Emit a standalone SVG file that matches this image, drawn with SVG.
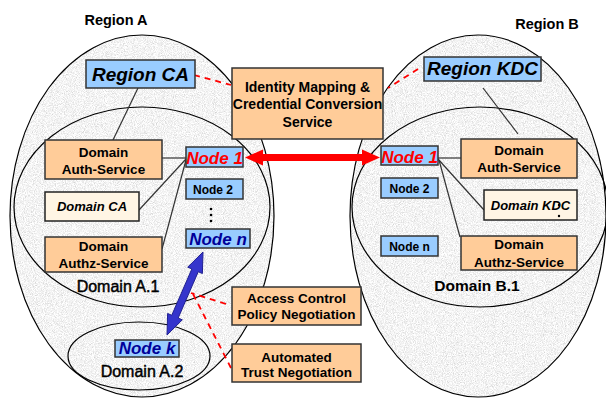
<svg xmlns="http://www.w3.org/2000/svg" width="606" height="399" viewBox="0 0 606 399">
<defs>
<filter id="speck" x="0" y="0" width="1" height="1">
<feTurbulence type="fractalNoise" baseFrequency="1.1" numOctaves="2" seed="4" result="n"/>
<feColorMatrix in="n" type="matrix" values="0.7 0 0 0 0.55  0.7 0 0 0 0.55  0.7 0 0 0 0.55  0 0 0 0 1" result="g"/>
<feComposite in="g" in2="SourceGraphic" operator="in"/>
</filter>
<style>
.region{fill:#e0e0e0;}
.outline{fill:none;stroke:#000;stroke-width:1.2;}
.blue{fill:#99ccff;stroke:#333;stroke-width:1.5;}
.peach{fill:#ffcc99;stroke:#333;stroke-width:1.5;}
.cream{fill:#fff5e4;stroke:#222;stroke-width:1.5;}
.t{font-family:"Liberation Sans",Arial,sans-serif;font-weight:bold;text-anchor:middle;fill:#000;}
.m{font-weight:normal;stroke:#000;stroke-width:0.45;}
.bi{font-style:italic;}
.line{stroke:#333;stroke-width:1.2;fill:none;}
.dash{stroke:#ff0000;stroke-width:1.8;stroke-dasharray:6,5;fill:none;}
</style>
</defs>

<g id="regionA">
<ellipse class="region" cx="142" cy="216" rx="132" ry="181" filter="url(#speck)"/>
<ellipse class="outline" cx="142" cy="216" rx="132" ry="181"/>
<text class="t" x="116" y="25" font-size="14.5">Region A</text>
</g>
<g id="regionB">
<ellipse class="region" cx="478" cy="216" rx="128" ry="181" filter="url(#speck)"/>
<ellipse class="outline" cx="478" cy="216" rx="128" ry="181"/>
<text class="t" x="547" y="29" font-size="14.5">Region B</text>
</g>
<g id="domainA1">
<ellipse class="outline" cx="142" cy="207" rx="128" ry="100"/>
<text class="t m" x="118" y="292" font-size="16">Domain A.1</text>
</g>
<g id="domainA2">
<ellipse class="outline" cx="139" cy="356" rx="71" ry="34"/>
<text class="t m" x="142" y="377" font-size="16">Domain A.2</text>
</g>
<g id="domainB1">
<ellipse class="outline" cx="480" cy="207" rx="128" ry="100"/>
<text class="t" x="477" y="291" font-size="15.5">Domain B.1</text>
</g>

<g id="connectors">
<line class="line" x1="138" y1="88" x2="113" y2="140"/>
<line class="line" x1="105" y1="153" x2="105" y2="163"/>
<line class="line" x1="162" y1="158" x2="186" y2="158"/>
<line class="line" x1="139" y1="210" x2="186" y2="159"/>
<line class="line" x1="162" y1="249" x2="186" y2="160"/>
<line class="line" x1="483" y1="88" x2="518" y2="134"/>
<line class="line" x1="518" y1="150" x2="518" y2="163"/>
<line class="line" x1="438" y1="158" x2="461" y2="158"/>
<line class="line" x1="438" y1="159" x2="484" y2="210"/>
<line class="line" x1="439" y1="160" x2="460" y2="237"/>
<line class="dash" x1="194" y1="75" x2="231" y2="85"/>
<line class="dash" x1="418" y1="69" x2="388" y2="88"/>
<line class="dash" x1="226" y1="304" x2="191" y2="293"/>
<line class="dash" x1="231" y1="368" x2="193" y2="294"/>
<polygon points="245,157.5 263,149.5 263,154 362,154 362,149.5 380,157.5 362,165.5 362,161 263,161 263,165.5" fill="#ff0000"/>
<polygon points="203,252 202.38,273.52 198.25,271.73 178.17,318.05 182.3,319.84 167,335 167.62,313.48 171.75,315.27 191.83,268.95 187.7,267.16" fill="#3535cc" stroke="#20208f" stroke-width="1"/>
</g>

<g id="regionCA">
<rect class="blue" x="86" y="60" width="109" height="28"/>
<text class="t bi" x="140.5" y="81" font-size="19">Region CA</text>
</g>
<g id="regionKDC">
<rect class="blue" x="424" y="57" width="117" height="24"/>
<text class="t bi" x="482.5" y="75" font-size="19">Region KDC</text>
</g>
<g id="identity">
<rect class="peach" x="232" y="68" width="151" height="71"/>
<text class="t" x="307.5" y="92" font-size="14">Identity Mapping &amp;</text>
<text class="t" x="307.5" y="109" font-size="14">Credential Conversion</text>
<text class="t" x="307.5" y="127" font-size="14">Service</text>
</g>
<g id="authA">
<rect class="peach" x="45" y="140" width="117" height="39"/>
<text class="t" x="103.5" y="157" font-size="13.5">Domain</text>
<text class="t" x="103.5" y="174" font-size="13.5">Auth-Service</text>
</g>
<g id="domainCA">
<rect class="cream" x="45" y="192" width="94" height="29"/>
<text class="t bi" x="92" y="211" font-size="13">Domain CA</text>
</g>
<g id="authzA">
<rect class="peach" x="45" y="237" width="117" height="35"/>
<text class="t" x="103.5" y="251" font-size="13.5">Domain</text>
<text class="t" x="103.5" y="268" font-size="13.5">Authz-Service</text>
</g>
<g id="node1A">
<rect class="blue" x="186" y="147" width="57" height="20"/>
<text class="t bi" x="214.5" y="164" font-size="17" style="fill:#ff0000">Node 1</text>
</g>
<g id="node2A">
<rect class="blue" x="186" y="179" width="57" height="20"/>
<text class="t" x="213" y="194" font-size="12">Node 2</text>
</g>
<g id="dotsA">
<circle cx="211" cy="209" r="1.3" fill="#000"/>
<circle cx="211" cy="215" r="1.3" fill="#000"/>
<circle cx="211" cy="221" r="1.3" fill="#000"/>
</g>
<g id="nodenA">
<rect class="blue" x="186" y="229" width="64" height="19"/>
<text class="t bi" x="218" y="245" font-size="17" style="fill:#000099">Node n</text>
</g>
<g id="nodek">
<rect class="blue" x="115" y="340" width="64" height="17"/>
<text class="t bi" x="147" y="354" font-size="17" style="fill:#000099">Node k</text>
</g>
<g id="access">
<rect class="peach" x="232" y="287" width="129" height="38"/>
<text class="t" x="296.5" y="303" font-size="13.5">Access Control</text>
<text class="t" x="296.5" y="319" font-size="13.5">Policy Negotiation</text>
</g>
<g id="trust">
<rect class="peach" x="232" y="344" width="129" height="38"/>
<text class="t" x="296.5" y="362" font-size="13.5">Automated</text>
<text class="t" x="296.5" y="377" font-size="13.5">Trust Negotiation</text>
</g>
<g id="node1B">
<rect class="blue" x="381" y="146" width="57" height="19"/>
<text class="t bi" x="409.5" y="163" font-size="17" style="fill:#ff0000">Node 1</text>
</g>
<g id="node2B">
<rect class="blue" x="381" y="178" width="57" height="20"/>
<text class="t" x="409.5" y="193" font-size="12">Node 2</text>
</g>
<g id="nodenB">
<rect class="blue" x="381" y="236" width="57" height="20"/>
<text class="t" x="409.5" y="251" font-size="12">Node n</text>
</g>
<g id="authB">
<rect class="peach" x="461" y="139" width="116" height="39"/>
<text class="t" x="519" y="155" font-size="13.5">Domain</text>
<text class="t" x="519" y="172" font-size="13.5">Auth-Service</text>
</g>
<g id="domainKDC">
<rect class="cream" x="484" y="190" width="93" height="30"/>
<text class="t bi" x="530.5" y="210" font-size="13">Domain KDC</text>
<circle cx="559" cy="205" r="1.2" fill="#000"/>
<circle cx="559" cy="216" r="1.2" fill="#000"/>
</g>
<g id="authzB">
<rect class="peach" x="461" y="236" width="116" height="34"/>
<text class="t" x="519" y="249" font-size="13.5">Domain</text>
<text class="t" x="519" y="267" font-size="13.5">Authz-Service</text>
</g>
</svg>
